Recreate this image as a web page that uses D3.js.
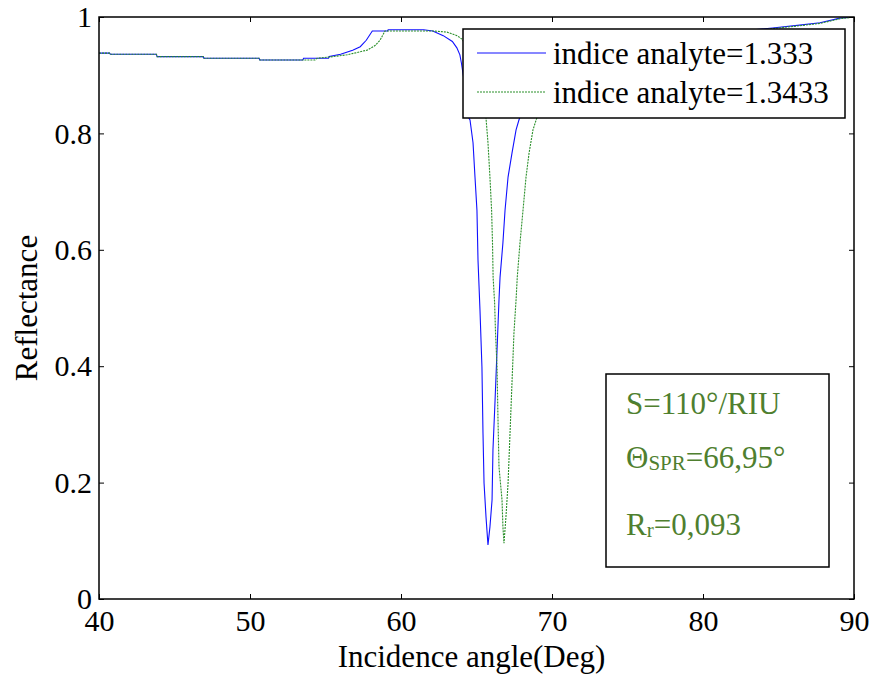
<!DOCTYPE html>
<html>
<head>
<meta charset="utf-8">
<script src="https://cdn.jsdelivr.net/npm/d3@7"></script>
<style>
  body { margin: 0; background: #fff; }
  svg { display: block; }
  svg text { font-family: "Liberation Serif", "Times New Roman", serif; }
</style>
</head>
<body>
<svg id="chart" width="872" height="675"></svg>
<script>
// values
let angleBlue = [40, 40.7, 40.75, 43.8, 43.85, 46.9, 46.95, 50.6, 50.65, 53.5, 53.55, 55.2, 55.25, 56.0, 56.8, 57.3, 57.7, 58.1,
  59.1, 59.15, 61.5, 62.1, 62.8, 63.4, 63.7, 63.9, 64.0, 64.3, 64.5, 64.57, 64.77, 64.9, 65.03, 65.1, 65.23, 65.36, 65.43,
  65.5, 65.63, 65.76, 65.89, 66.03, 66.09, 66.23, 66.36, 66.49, 66.56, 66.75, 66.89, 67.09, 67.35, 67.62, 67.81, 68.5,
  69.5, 71, 73, 76, 80, 84.6, 86.4, 87.75, 89.07, 90];
let reflBlue = [0.938, 0.938, 0.936, 0.936, 0.932, 0.932, 0.929, 0.929, 0.926, 0.926, 0.929, 0.929, 0.932, 0.936, 0.943, 0.949, 0.960, 0.976,
  0.976, 0.978, 0.978, 0.976, 0.968, 0.958, 0.947, 0.935, 0.921, 0.87, 0.826, 0.823, 0.784, 0.725, 0.668, 0.582, 0.497, 0.399, 0.285,
  0.199, 0.141, 0.093, 0.124, 0.170, 0.256, 0.342, 0.428, 0.514, 0.553, 0.612, 0.668, 0.725, 0.766, 0.806, 0.823, 0.87,
  0.905, 0.93, 0.947, 0.96, 0.970, 0.981, 0.986, 0.990, 0.998, 1.0];

let angleGreen = [40, 40.7, 40.75, 43.8, 43.85, 46.9, 46.95, 50.6, 50.65, 54.3, 54.44, 55.5, 56.42, 57.09, 57.75, 58.28, 58.61, 58.94,
  62.12, 63.05, 63.71, 64.04, 64.6, 65.1, 65.4, 65.63, 65.76, 65.89, 66.0, 66.06, 66.1, 66.2, 66.26, 66.36, 66.42, 66.49,
  66.69, 66.75, 66.82, 66.95, 67.09, 67.22, 67.35, 67.48, 67.62, 67.7, 67.88, 68.08, 68.28, 68.48, 68.74, 69.01, 69.8,
  71, 73, 76, 80, 84.6, 86.4, 87.75, 89.07, 90];
let reflGreen = [0.938, 0.938, 0.936, 0.936, 0.932, 0.932, 0.929, 0.929, 0.926, 0.926, 0.929, 0.932, 0.935, 0.939, 0.943, 0.951, 0.960, 0.976,
  0.976, 0.974, 0.968, 0.962, 0.94, 0.9, 0.86, 0.826, 0.784, 0.725, 0.668, 0.612, 0.553, 0.509, 0.457, 0.399, 0.313, 0.227,
  0.170, 0.124, 0.096, 0.141, 0.199, 0.285, 0.371, 0.457, 0.514, 0.553, 0.612, 0.668, 0.725, 0.766, 0.806, 0.828, 0.87,
  0.905, 0.935, 0.952, 0.966, 0.980, 0.985, 0.989, 0.997, 1.0];

let xTicks = [40, 50, 60, 70, 80, 90];
let yTicks = [0, 0.2, 0.4, 0.6, 0.8, 1];
let legendLabels = ['indice analyte=1.333', 'indice analyte=1.3433'];

let svg = d3.select('#chart');
let width = 872, height = 675;
let margin = {top: 17, right: 18, bottom: 76, left: 99};
let w = width - margin.left - margin.right;
let h = height - margin.top - margin.bottom;
let serif = '"Liberation Serif", "Times New Roman", serif';

let x = d3.scaleLinear().domain([40, 90]).range([0, w]);
let y = d3.scaleLinear().domain([0, 1]).range([h, 0]);

let g = svg.append('g').attr('transform', 'translate(' + margin.left + ',' + margin.top + ')');

g.append('clipPath').attr('id', 'clip')
  .append('rect').attr('width', w).attr('height', h);

// curves
let line = d3.line()
  .x(function(d){ return x(d[0]); })
  .y(function(d){ return y(d[1]); });

let blue = d3.zip(angleBlue, reflBlue);
let green = d3.zip(angleGreen, reflGreen);

g.append('path')
  .datum(blue)
  .attr('clip-path', 'url(#clip)')
  .attr('fill', 'none')
  .attr('stroke', '#1010ff')
  .attr('stroke-width', 1.1)
  .attr('d', line);

g.append('path')
  .datum(green)
  .attr('clip-path', 'url(#clip)')
  .attr('fill', 'none')
  .attr('stroke', '#2a8f2a')
  .attr('stroke-width', 1.1)
  .attr('stroke-dasharray', '2,1')
  .attr('d', line);

// axes, ticks pointing inwards on all four sides
g.append('g')
  .attr('transform', 'translate(0,' + h + ')')
  .call(d3.axisBottom(x).tickValues(xTicks).tickSizeInner(-5).tickSizeOuter(0).tickPadding(11));
g.append('g')
  .call(d3.axisLeft(y).tickValues(yTicks).tickSizeInner(-5).tickSizeOuter(0).tickPadding(7)
    .tickFormat(d3.format('')));
g.append('g')
  .call(d3.axisTop(x).tickValues(xTicks).tickSizeInner(-5).tickSizeOuter(0).tickFormat(''));
g.append('g')
  .attr('transform', 'translate(' + w + ',0)')
  .call(d3.axisRight(y).tickValues(yTicks).tickSizeInner(-5).tickSizeOuter(0).tickFormat(''));

g.selectAll('.domain').remove();
g.selectAll('.tick line').attr('stroke', '#000').attr('stroke-width', 1);
g.selectAll('.tick text')
  .attr('fill', '#000')
  .attr('font-family', serif)
  .style('font-family', serif)
  .style('font-size', '30px');

g.append('rect')
  .attr('width', w).attr('height', h)
  .attr('fill', 'none')
  .attr('stroke', '#000')
  .attr('stroke-width', 1.5);

// axis titles
svg.append('text')
  .attr('x', margin.left + w / 2 - 5)
  .attr('y', 667)
  .attr('text-anchor', 'middle')
  .style('font-size', '31px')
  .text('Incidence angle(Deg)');

svg.append('text')
  .attr('transform', 'translate(37,308) rotate(-90)')
  .attr('text-anchor', 'middle')
  .style('font-size', '31px')
  .text('Reflectance');

// legend
let legend = svg.append('g').attr('transform', 'translate(463,29)');
legend.append('rect')
  .attr('width', 382).attr('height', 89)
  .attr('fill', '#fff')
  .attr('stroke', '#000')
  .attr('stroke-width', 1.5);

let legendColors = ['#1010ff', '#2a8f2a'];
let items = legend.selectAll('.item')
  .data(legendLabels)
  .enter()
  .append('g')
  .attr('class', 'item')
  .attr('transform', function(d, i){ return 'translate(0,' + (24 + i * 39) + ')'; });

items.append('line')
  .attr('x1', 14).attr('x2', 83)
  .attr('stroke', function(d, i){ return legendColors[i]; })
  .attr('stroke-width', 1.1)
  .attr('stroke-dasharray', function(d, i){ return i == 1 ? '2,1' : null; });

items.append('text')
  .attr('x', 90)
  .attr('y', 11)
  .style('font-family', serif)
  .style('font-size', '31px')
  .text(function(d){ return d; });

// annotation box
let note = svg.append('g').attr('transform', 'translate(606,374)');
note.append('rect')
  .attr('width', 223).attr('height', 193)
  .attr('fill', '#fff')
  .attr('stroke', '#000')
  .attr('stroke-width', 1.5);

let noteColor = '#4f7f2f';
note.append('text')
  .attr('x', 20).attr('y', 40)
  .attr('fill', noteColor)
  .style('font-size', '31px')
  .text('S=110°/RIU');

let t2 = note.append('text')
  .attr('x', 20).attr('y', 94)
  .attr('fill', noteColor)
  .style('font-size', '31px');
t2.append('tspan').text('Θ');
t2.append('tspan').attr('dy', 2).style('font-size', '21px').text('SPR');
t2.append('tspan').attr('dy', -2).text('=66,95°');

let t3 = note.append('text')
  .attr('x', 20).attr('y', 161)
  .attr('fill', noteColor)
  .style('font-size', '31px');
t3.append('tspan').text('R');
t3.append('tspan').attr('dy', 2).style('font-size', '21px').text('r');
t3.append('tspan').attr('dy', -2).text('=0,093');
</script>
</body>
</html>
